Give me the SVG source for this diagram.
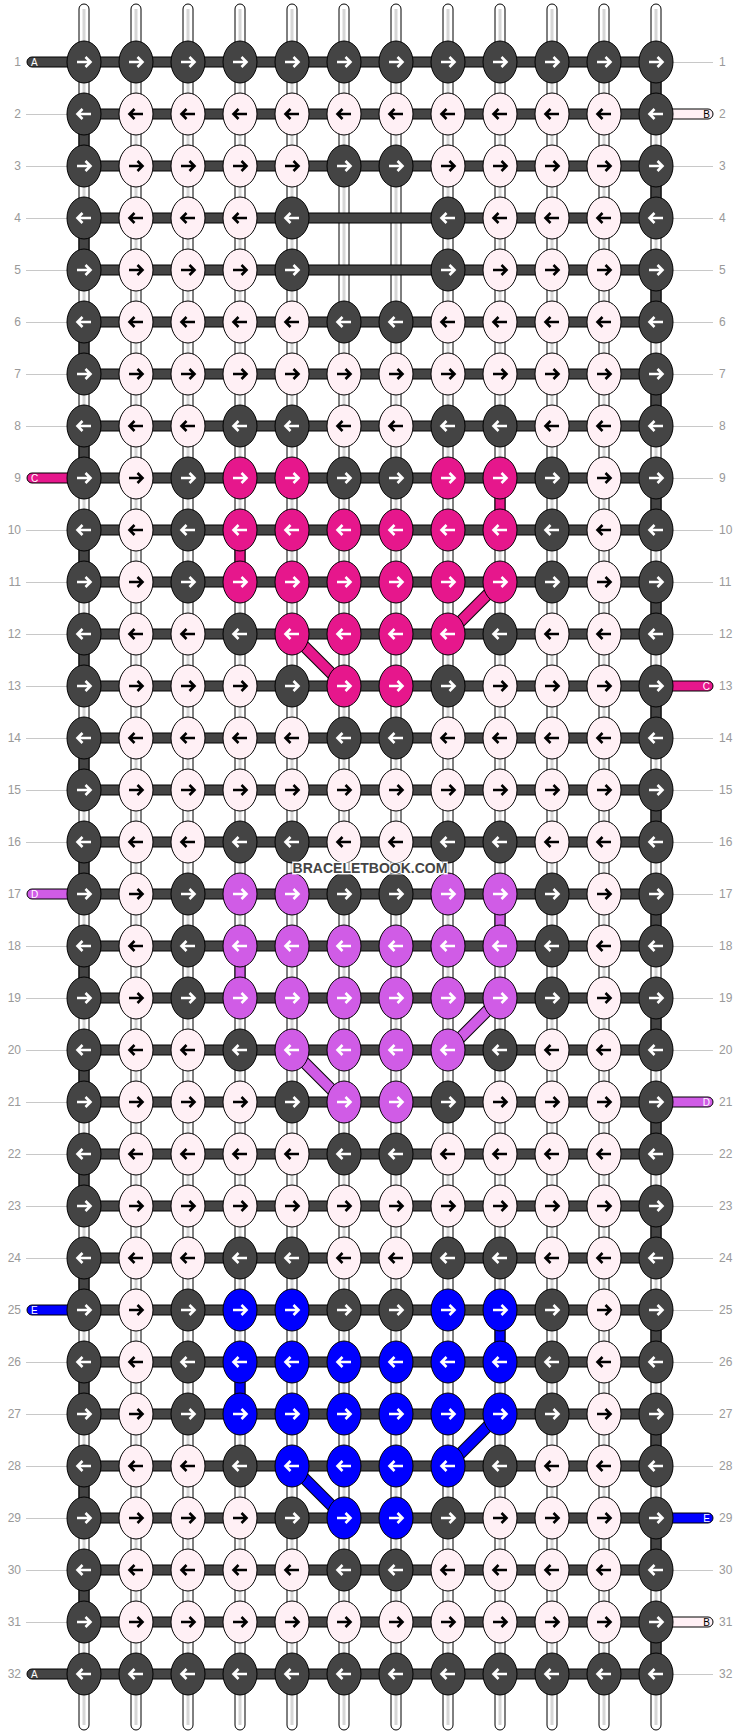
<svg xmlns="http://www.w3.org/2000/svg" xmlns:xlink="http://www.w3.org/1999/xlink" width="740" height="1736" viewBox="0 0 740 1736">
<style>
.str{fill:#fff;stroke:#000;stroke-width:1}
.stp{fill:#d6d6d6}
.bar{fill:#444;stroke:#000;stroke-width:1}
.seg{stroke:#000;stroke-width:1}
.cd{fill:#444}.cl{fill:#fff0f5}.cp{fill:#e6178c}.cv{fill:#d05ce6}.cb{fill:#0000ff}
.k{stroke:#000;stroke-width:1}
.aw{fill:none;stroke:#fff;stroke-width:2.6}
.ak{fill:none;stroke:#000;stroke-width:2.6}
.num{font-family:"Liberation Sans",Arial,sans-serif;font-size:12px;fill:#999}
.lt{font-family:"Liberation Sans",Arial,sans-serif;font-size:10px}
.ln{stroke:#c8c8c8;stroke-width:1}
.wm{font-family:"Liberation Sans",Arial,sans-serif;font-size:14px;font-weight:bold;fill:#444;stroke:#fff;stroke-width:2;paint-order:stroke}
</style>
<defs>
<path id="ar" d="M-7,0H6.5M1.5,-5L6.5,0L1.5,5"/>
<path id="al" d="M7,0H-6.5M-1.5,-5L-6.5,0L-1.5,5"/>
<g id="DR"><ellipse rx="17" ry="21" class="k cd"/><use href="#ar" class="aw"/></g>
<g id="DL"><ellipse rx="17" ry="21" class="k cd"/><use href="#al" class="aw"/></g>
<g id="LR"><ellipse rx="17" ry="21" class="k cl"/><use href="#ar" class="ak"/></g>
<g id="LL"><ellipse rx="17" ry="21" class="k cl"/><use href="#al" class="ak"/></g>
<g id="PR"><ellipse rx="17" ry="21" class="k cp"/><use href="#ar" class="aw"/></g>
<g id="PL"><ellipse rx="17" ry="21" class="k cp"/><use href="#al" class="aw"/></g>
<g id="VR"><ellipse rx="17" ry="21" class="k cv"/><use href="#ar" class="aw"/></g>
<g id="VL"><ellipse rx="17" ry="21" class="k cv"/><use href="#al" class="aw"/></g>
<g id="BR"><ellipse rx="17" ry="21" class="k cb"/><use href="#ar" class="aw"/></g>
<g id="BL"><ellipse rx="17" ry="21" class="k cb"/><use href="#al" class="aw"/></g>
</defs>
<rect width="740" height="1736" fill="#fff"/>
<g id="labels">
<g class="ln">
<line x1="26" y1="114.5" x2="67" y2="114.5"/><line x1="26" y1="166.5" x2="67" y2="166.5"/><line x1="26" y1="218.5" x2="67" y2="218.5"/><line x1="26" y1="270.5" x2="67" y2="270.5"/><line x1="26" y1="322.5" x2="67" y2="322.5"/><line x1="26" y1="374.5" x2="67" y2="374.5"/><line x1="26" y1="426.5" x2="67" y2="426.5"/><line x1="26" y1="530.5" x2="67" y2="530.5"/><line x1="26" y1="582.5" x2="67" y2="582.5"/><line x1="26" y1="634.5" x2="67" y2="634.5"/><line x1="26" y1="686.5" x2="67" y2="686.5"/><line x1="26" y1="738.5" x2="67" y2="738.5"/><line x1="26" y1="790.5" x2="67" y2="790.5"/><line x1="26" y1="842.5" x2="67" y2="842.5"/><line x1="26" y1="946.5" x2="67" y2="946.5"/><line x1="26" y1="998.5" x2="67" y2="998.5"/><line x1="26" y1="1050.5" x2="67" y2="1050.5"/><line x1="26" y1="1102.5" x2="67" y2="1102.5"/><line x1="26" y1="1154.5" x2="67" y2="1154.5"/><line x1="26" y1="1206.5" x2="67" y2="1206.5"/><line x1="26" y1="1258.5" x2="67" y2="1258.5"/><line x1="26" y1="1362.5" x2="67" y2="1362.5"/><line x1="26" y1="1414.5" x2="67" y2="1414.5"/><line x1="26" y1="1466.5" x2="67" y2="1466.5"/><line x1="26" y1="1518.5" x2="67" y2="1518.5"/><line x1="26" y1="1570.5" x2="67" y2="1570.5"/><line x1="26" y1="1622.5" x2="67" y2="1622.5"/>
<line x1="673" y1="62.5" x2="713" y2="62.5"/><line x1="673" y1="166.5" x2="713" y2="166.5"/><line x1="673" y1="218.5" x2="713" y2="218.5"/><line x1="673" y1="270.5" x2="713" y2="270.5"/><line x1="673" y1="322.5" x2="713" y2="322.5"/><line x1="673" y1="374.5" x2="713" y2="374.5"/><line x1="673" y1="426.5" x2="713" y2="426.5"/><line x1="673" y1="478.5" x2="713" y2="478.5"/><line x1="673" y1="530.5" x2="713" y2="530.5"/><line x1="673" y1="582.5" x2="713" y2="582.5"/><line x1="673" y1="634.5" x2="713" y2="634.5"/><line x1="673" y1="738.5" x2="713" y2="738.5"/><line x1="673" y1="790.5" x2="713" y2="790.5"/><line x1="673" y1="842.5" x2="713" y2="842.5"/><line x1="673" y1="894.5" x2="713" y2="894.5"/><line x1="673" y1="946.5" x2="713" y2="946.5"/><line x1="673" y1="998.5" x2="713" y2="998.5"/><line x1="673" y1="1050.5" x2="713" y2="1050.5"/><line x1="673" y1="1154.5" x2="713" y2="1154.5"/><line x1="673" y1="1206.5" x2="713" y2="1206.5"/><line x1="673" y1="1258.5" x2="713" y2="1258.5"/><line x1="673" y1="1310.5" x2="713" y2="1310.5"/><line x1="673" y1="1362.5" x2="713" y2="1362.5"/><line x1="673" y1="1414.5" x2="713" y2="1414.5"/><line x1="673" y1="1466.5" x2="713" y2="1466.5"/><line x1="673" y1="1570.5" x2="713" y2="1570.5"/><line x1="673" y1="1674.5" x2="713" y2="1674.5"/>
</g>
<g class="num" text-anchor="end">
<text x="21" y="66">1</text><text x="21" y="118">2</text><text x="21" y="170">3</text><text x="21" y="222">4</text><text x="21" y="274">5</text><text x="21" y="326">6</text><text x="21" y="378">7</text><text x="21" y="430">8</text><text x="21" y="482">9</text><text x="21" y="534">10</text><text x="21" y="586">11</text><text x="21" y="638">12</text><text x="21" y="690">13</text><text x="21" y="742">14</text><text x="21" y="794">15</text><text x="21" y="846">16</text><text x="21" y="898">17</text><text x="21" y="950">18</text><text x="21" y="1002">19</text><text x="21" y="1054">20</text><text x="21" y="1106">21</text><text x="21" y="1158">22</text><text x="21" y="1210">23</text><text x="21" y="1262">24</text><text x="21" y="1314">25</text><text x="21" y="1366">26</text><text x="21" y="1418">27</text><text x="21" y="1470">28</text><text x="21" y="1522">29</text><text x="21" y="1574">30</text><text x="21" y="1626">31</text><text x="21" y="1678">32</text>
</g>
<g class="num">
<text x="719" y="66">1</text><text x="719" y="118">2</text><text x="719" y="170">3</text><text x="719" y="222">4</text><text x="719" y="274">5</text><text x="719" y="326">6</text><text x="719" y="378">7</text><text x="719" y="430">8</text><text x="719" y="482">9</text><text x="719" y="534">10</text><text x="719" y="586">11</text><text x="719" y="638">12</text><text x="719" y="690">13</text><text x="719" y="742">14</text><text x="719" y="794">15</text><text x="719" y="846">16</text><text x="719" y="898">17</text><text x="719" y="950">18</text><text x="719" y="1002">19</text><text x="719" y="1054">20</text><text x="719" y="1106">21</text><text x="719" y="1158">22</text><text x="719" y="1210">23</text><text x="719" y="1262">24</text><text x="719" y="1314">25</text><text x="719" y="1366">26</text><text x="719" y="1418">27</text><text x="719" y="1470">28</text><text x="719" y="1522">29</text><text x="719" y="1574">30</text><text x="719" y="1626">31</text><text x="719" y="1678">32</text>
</g>
</g>
<g id="connectors">
<g id="strings">
<rect class="str" x="79" y="4" width="10" height="1726" rx="5"/><rect class="str" x="131" y="4" width="10" height="1726" rx="5"/><rect class="str" x="183" y="4" width="10" height="1726" rx="5"/><rect class="str" x="235" y="4" width="10" height="1726" rx="5"/><rect class="str" x="287" y="4" width="10" height="1726" rx="5"/><rect class="str" x="339" y="4" width="10" height="1726" rx="5"/><rect class="str" x="391" y="4" width="10" height="1726" rx="5"/><rect class="str" x="443" y="4" width="10" height="1726" rx="5"/><rect class="str" x="495" y="4" width="10" height="1726" rx="5"/><rect class="str" x="547" y="4" width="10" height="1726" rx="5"/><rect class="str" x="599" y="4" width="10" height="1726" rx="5"/><rect class="str" x="651" y="4" width="10" height="1726" rx="5"/>
<rect class="stp" x="82.5" y="9" width="3" height="1716"/><rect class="stp" x="134.5" y="9" width="3" height="1716"/><rect class="stp" x="186.5" y="9" width="3" height="1716"/><rect class="stp" x="238.5" y="9" width="3" height="1716"/><rect class="stp" x="290.5" y="9" width="3" height="1716"/><rect class="stp" x="342.5" y="9" width="3" height="1716"/><rect class="stp" x="394.5" y="9" width="3" height="1716"/><rect class="stp" x="446.5" y="9" width="3" height="1716"/><rect class="stp" x="498.5" y="9" width="3" height="1716"/><rect class="stp" x="550.5" y="9" width="3" height="1716"/><rect class="stp" x="602.5" y="9" width="3" height="1716"/><rect class="stp" x="654.5" y="9" width="3" height="1716"/>
</g>
<g id="stubs">
<rect class="seg cd" x="27" y="57" width="60" height="10" rx="5"/>
<rect class="seg cp" x="27" y="473" width="60" height="10" rx="5"/>
<rect class="seg cv" x="27" y="889" width="60" height="10" rx="5"/>
<rect class="seg cb" x="27" y="1305" width="60" height="10" rx="5"/>
<rect class="seg cd" x="27" y="1669" width="60" height="10" rx="5"/>
<rect class="seg cl" x="653" y="109" width="60" height="10" rx="5"/>
<rect class="seg cp" x="653" y="681" width="60" height="10" rx="5"/>
<rect class="seg cv" x="653" y="1097" width="60" height="10" rx="5"/>
<rect class="seg cb" x="653" y="1513" width="60" height="10" rx="5"/>
<rect class="seg cl" x="653" y="1617" width="60" height="10" rx="5"/>
<g class="lt" fill="#fff">
<text x="31" y="66">A</text><text x="31" y="482">C</text><text x="31" y="898">D</text><text x="31" y="1314">E</text><text x="31" y="1678">A</text>
<text x="710" y="690" text-anchor="end">C</text><text x="710" y="1106" text-anchor="end">D</text><text x="710" y="1522" text-anchor="end">E</text>
</g>
<g class="lt" fill="#000" text-anchor="end"><text x="710" y="118">B</text><text x="710" y="1626">B</text></g>
</g>
<g id="bars">
<rect class="bar" x="84" y="57" width="572" height="10"/><rect class="bar" x="84" y="109" width="572" height="10"/><rect class="bar" x="84" y="161" width="572" height="10"/><rect class="bar" x="84" y="213" width="572" height="10"/><rect class="bar" x="84" y="265" width="572" height="10"/><rect class="bar" x="84" y="317" width="572" height="10"/><rect class="bar" x="84" y="369" width="572" height="10"/><rect class="bar" x="84" y="421" width="572" height="10"/><rect class="bar" x="84" y="473" width="572" height="10"/><rect class="bar" x="84" y="525" width="572" height="10"/><rect class="bar" x="84" y="577" width="572" height="10"/><rect class="bar" x="84" y="629" width="572" height="10"/><rect class="bar" x="84" y="681" width="572" height="10"/><rect class="bar" x="84" y="733" width="572" height="10"/><rect class="bar" x="84" y="785" width="572" height="10"/><rect class="bar" x="84" y="837" width="572" height="10"/><rect class="bar" x="84" y="889" width="572" height="10"/><rect class="bar" x="84" y="941" width="572" height="10"/><rect class="bar" x="84" y="993" width="572" height="10"/><rect class="bar" x="84" y="1045" width="572" height="10"/><rect class="bar" x="84" y="1097" width="572" height="10"/><rect class="bar" x="84" y="1149" width="572" height="10"/><rect class="bar" x="84" y="1201" width="572" height="10"/><rect class="bar" x="84" y="1253" width="572" height="10"/><rect class="bar" x="84" y="1305" width="572" height="10"/><rect class="bar" x="84" y="1357" width="572" height="10"/><rect class="bar" x="84" y="1409" width="572" height="10"/><rect class="bar" x="84" y="1461" width="572" height="10"/><rect class="bar" x="84" y="1513" width="572" height="10"/><rect class="bar" x="84" y="1565" width="572" height="10"/><rect class="bar" x="84" y="1617" width="572" height="10"/><rect class="bar" x="84" y="1669" width="572" height="10"/>
</g>
<g id="turns" class="seg cd">
<rect x="651" y="62" width="10" height="52"/><rect x="651" y="166" width="10" height="52"/><rect x="651" y="270" width="10" height="52"/><rect x="651" y="374" width="10" height="52"/><rect x="651" y="478" width="10" height="52"/><rect x="651" y="582" width="10" height="52"/><rect x="651" y="686" width="10" height="52"/><rect x="651" y="790" width="10" height="52"/><rect x="651" y="894" width="10" height="52"/><rect x="651" y="998" width="10" height="52"/><rect x="651" y="1102" width="10" height="52"/><rect x="651" y="1206" width="10" height="52"/><rect x="651" y="1310" width="10" height="52"/><rect x="651" y="1414" width="10" height="52"/><rect x="651" y="1518" width="10" height="52"/><rect x="651" y="1622" width="10" height="52"/>
<rect x="79" y="114" width="10" height="52"/><rect x="79" y="218" width="10" height="52"/><rect x="79" y="322" width="10" height="52"/><rect x="79" y="426" width="10" height="52"/><rect x="79" y="530" width="10" height="52"/><rect x="79" y="634" width="10" height="52"/><rect x="79" y="738" width="10" height="52"/><rect x="79" y="842" width="10" height="52"/><rect x="79" y="946" width="10" height="52"/><rect x="79" y="1050" width="10" height="52"/><rect x="79" y="1154" width="10" height="52"/><rect x="79" y="1258" width="10" height="52"/><rect x="79" y="1362" width="10" height="52"/><rect x="79" y="1466" width="10" height="52"/><rect x="79" y="1570" width="10" height="52"/>
</g>
<g id="colored">
<rect class="seg cp" x="495" y="478" width="10" height="52"/><rect class="seg cp" x="235" y="530" width="10" height="52"/>
<rect class="seg cv" x="495" y="894" width="10" height="52"/><rect class="seg cv" x="235" y="946" width="10" height="52"/>
<rect class="seg cb" x="495" y="1310" width="10" height="52"/><rect class="seg cb" x="235" y="1362" width="10" height="52"/>
<g stroke="#000" stroke-width="12"><line x1="500" y1="582" x2="448" y2="634"/><line x1="292" y1="634" x2="344" y2="686"/><line x1="500" y1="998" x2="448" y2="1050"/><line x1="292" y1="1050" x2="344" y2="1102"/><line x1="500" y1="1414" x2="448" y2="1466"/><line x1="292" y1="1466" x2="344" y2="1518"/></g>
<g stroke-width="10"><line stroke="#e6178c" x1="500" y1="582" x2="448" y2="634"/><line stroke="#e6178c" x1="292" y1="634" x2="344" y2="686"/><line stroke="#d05ce6" x1="500" y1="998" x2="448" y2="1050"/><line stroke="#d05ce6" x1="292" y1="1050" x2="344" y2="1102"/><line stroke="#0000ff" x1="500" y1="1414" x2="448" y2="1466"/><line stroke="#0000ff" x1="292" y1="1466" x2="344" y2="1518"/></g>
</g>
</g>
<g id="knots">
<g id="n1_1"><use href="#DR" x="84" y="62"/></g><g id="n1_2"><use href="#DR" x="136" y="62"/></g><g id="n1_3"><use href="#DR" x="188" y="62"/></g><g id="n1_4"><use href="#DR" x="240" y="62"/></g><g id="n1_5"><use href="#DR" x="292" y="62"/></g><g id="n1_6"><use href="#DR" x="344" y="62"/></g><g id="n1_7"><use href="#DR" x="396" y="62"/></g><g id="n1_8"><use href="#DR" x="448" y="62"/></g><g id="n1_9"><use href="#DR" x="500" y="62"/></g><g id="n1_10"><use href="#DR" x="552" y="62"/></g><g id="n1_11"><use href="#DR" x="604" y="62"/></g><g id="n1_12"><use href="#DR" x="656" y="62"/></g>
<g id="n2_1"><use href="#DL" x="84" y="114"/></g><g id="n2_2"><use href="#LL" x="136" y="114"/></g><g id="n2_3"><use href="#LL" x="188" y="114"/></g><g id="n2_4"><use href="#LL" x="240" y="114"/></g><g id="n2_5"><use href="#LL" x="292" y="114"/></g><g id="n2_6"><use href="#LL" x="344" y="114"/></g><g id="n2_7"><use href="#LL" x="396" y="114"/></g><g id="n2_8"><use href="#LL" x="448" y="114"/></g><g id="n2_9"><use href="#LL" x="500" y="114"/></g><g id="n2_10"><use href="#LL" x="552" y="114"/></g><g id="n2_11"><use href="#LL" x="604" y="114"/></g><g id="n2_12"><use href="#DL" x="656" y="114"/></g>
<g id="n3_1"><use href="#DR" x="84" y="166"/></g><g id="n3_2"><use href="#LR" x="136" y="166"/></g><g id="n3_3"><use href="#LR" x="188" y="166"/></g><g id="n3_4"><use href="#LR" x="240" y="166"/></g><g id="n3_5"><use href="#LR" x="292" y="166"/></g><g id="n3_6"><use href="#DR" x="344" y="166"/></g><g id="n3_7"><use href="#DR" x="396" y="166"/></g><g id="n3_8"><use href="#LR" x="448" y="166"/></g><g id="n3_9"><use href="#LR" x="500" y="166"/></g><g id="n3_10"><use href="#LR" x="552" y="166"/></g><g id="n3_11"><use href="#LR" x="604" y="166"/></g><g id="n3_12"><use href="#DR" x="656" y="166"/></g>
<g id="n4_1"><use href="#DL" x="84" y="218"/></g><g id="n4_2"><use href="#LL" x="136" y="218"/></g><g id="n4_3"><use href="#LL" x="188" y="218"/></g><g id="n4_4"><use href="#LL" x="240" y="218"/></g><g id="n4_5"><use href="#DL" x="292" y="218"/></g><g id="n4_8"><use href="#DL" x="448" y="218"/></g><g id="n4_9"><use href="#LL" x="500" y="218"/></g><g id="n4_10"><use href="#LL" x="552" y="218"/></g><g id="n4_11"><use href="#LL" x="604" y="218"/></g><g id="n4_12"><use href="#DL" x="656" y="218"/></g>
<g id="n5_1"><use href="#DR" x="84" y="270"/></g><g id="n5_2"><use href="#LR" x="136" y="270"/></g><g id="n5_3"><use href="#LR" x="188" y="270"/></g><g id="n5_4"><use href="#LR" x="240" y="270"/></g><g id="n5_5"><use href="#DR" x="292" y="270"/></g><g id="n5_8"><use href="#DR" x="448" y="270"/></g><g id="n5_9"><use href="#LR" x="500" y="270"/></g><g id="n5_10"><use href="#LR" x="552" y="270"/></g><g id="n5_11"><use href="#LR" x="604" y="270"/></g><g id="n5_12"><use href="#DR" x="656" y="270"/></g>
<g id="n6_1"><use href="#DL" x="84" y="322"/></g><g id="n6_2"><use href="#LL" x="136" y="322"/></g><g id="n6_3"><use href="#LL" x="188" y="322"/></g><g id="n6_4"><use href="#LL" x="240" y="322"/></g><g id="n6_5"><use href="#LL" x="292" y="322"/></g><g id="n6_6"><use href="#DL" x="344" y="322"/></g><g id="n6_7"><use href="#DL" x="396" y="322"/></g><g id="n6_8"><use href="#LL" x="448" y="322"/></g><g id="n6_9"><use href="#LL" x="500" y="322"/></g><g id="n6_10"><use href="#LL" x="552" y="322"/></g><g id="n6_11"><use href="#LL" x="604" y="322"/></g><g id="n6_12"><use href="#DL" x="656" y="322"/></g>
<g id="n7_1"><use href="#DR" x="84" y="374"/></g><g id="n7_2"><use href="#LR" x="136" y="374"/></g><g id="n7_3"><use href="#LR" x="188" y="374"/></g><g id="n7_4"><use href="#LR" x="240" y="374"/></g><g id="n7_5"><use href="#LR" x="292" y="374"/></g><g id="n7_6"><use href="#LR" x="344" y="374"/></g><g id="n7_7"><use href="#LR" x="396" y="374"/></g><g id="n7_8"><use href="#LR" x="448" y="374"/></g><g id="n7_9"><use href="#LR" x="500" y="374"/></g><g id="n7_10"><use href="#LR" x="552" y="374"/></g><g id="n7_11"><use href="#LR" x="604" y="374"/></g><g id="n7_12"><use href="#DR" x="656" y="374"/></g>
<g id="n8_1"><use href="#DL" x="84" y="426"/></g><g id="n8_2"><use href="#LL" x="136" y="426"/></g><g id="n8_3"><use href="#LL" x="188" y="426"/></g><g id="n8_4"><use href="#DL" x="240" y="426"/></g><g id="n8_5"><use href="#DL" x="292" y="426"/></g><g id="n8_6"><use href="#LL" x="344" y="426"/></g><g id="n8_7"><use href="#LL" x="396" y="426"/></g><g id="n8_8"><use href="#DL" x="448" y="426"/></g><g id="n8_9"><use href="#DL" x="500" y="426"/></g><g id="n8_10"><use href="#LL" x="552" y="426"/></g><g id="n8_11"><use href="#LL" x="604" y="426"/></g><g id="n8_12"><use href="#DL" x="656" y="426"/></g>
<g id="n9_1"><use href="#DR" x="84" y="478"/></g><g id="n9_2"><use href="#LR" x="136" y="478"/></g><g id="n9_3"><use href="#DR" x="188" y="478"/></g><g id="n9_4"><use href="#PR" x="240" y="478"/></g><g id="n9_5"><use href="#PR" x="292" y="478"/></g><g id="n9_6"><use href="#DR" x="344" y="478"/></g><g id="n9_7"><use href="#DR" x="396" y="478"/></g><g id="n9_8"><use href="#PR" x="448" y="478"/></g><g id="n9_9"><use href="#PR" x="500" y="478"/></g><g id="n9_10"><use href="#DR" x="552" y="478"/></g><g id="n9_11"><use href="#LR" x="604" y="478"/></g><g id="n9_12"><use href="#DR" x="656" y="478"/></g>
<g id="n10_1"><use href="#DL" x="84" y="530"/></g><g id="n10_2"><use href="#LL" x="136" y="530"/></g><g id="n10_3"><use href="#DL" x="188" y="530"/></g><g id="n10_4"><use href="#PL" x="240" y="530"/></g><g id="n10_5"><use href="#PL" x="292" y="530"/></g><g id="n10_6"><use href="#PL" x="344" y="530"/></g><g id="n10_7"><use href="#PL" x="396" y="530"/></g><g id="n10_8"><use href="#PL" x="448" y="530"/></g><g id="n10_9"><use href="#PL" x="500" y="530"/></g><g id="n10_10"><use href="#DL" x="552" y="530"/></g><g id="n10_11"><use href="#LL" x="604" y="530"/></g><g id="n10_12"><use href="#DL" x="656" y="530"/></g>
<g id="n11_1"><use href="#DR" x="84" y="582"/></g><g id="n11_2"><use href="#LR" x="136" y="582"/></g><g id="n11_3"><use href="#DR" x="188" y="582"/></g><g id="n11_4"><use href="#PR" x="240" y="582"/></g><g id="n11_5"><use href="#PR" x="292" y="582"/></g><g id="n11_6"><use href="#PR" x="344" y="582"/></g><g id="n11_7"><use href="#PR" x="396" y="582"/></g><g id="n11_8"><use href="#PR" x="448" y="582"/></g><g id="n11_9"><use href="#PR" x="500" y="582"/></g><g id="n11_10"><use href="#DR" x="552" y="582"/></g><g id="n11_11"><use href="#LR" x="604" y="582"/></g><g id="n11_12"><use href="#DR" x="656" y="582"/></g>
<g id="n12_1"><use href="#DL" x="84" y="634"/></g><g id="n12_2"><use href="#LL" x="136" y="634"/></g><g id="n12_3"><use href="#LL" x="188" y="634"/></g><g id="n12_4"><use href="#DL" x="240" y="634"/></g><g id="n12_5"><use href="#PL" x="292" y="634"/></g><g id="n12_6"><use href="#PL" x="344" y="634"/></g><g id="n12_7"><use href="#PL" x="396" y="634"/></g><g id="n12_8"><use href="#PL" x="448" y="634"/></g><g id="n12_9"><use href="#DL" x="500" y="634"/></g><g id="n12_10"><use href="#LL" x="552" y="634"/></g><g id="n12_11"><use href="#LL" x="604" y="634"/></g><g id="n12_12"><use href="#DL" x="656" y="634"/></g>
<g id="n13_1"><use href="#DR" x="84" y="686"/></g><g id="n13_2"><use href="#LR" x="136" y="686"/></g><g id="n13_3"><use href="#LR" x="188" y="686"/></g><g id="n13_4"><use href="#LR" x="240" y="686"/></g><g id="n13_5"><use href="#DR" x="292" y="686"/></g><g id="n13_6"><use href="#PR" x="344" y="686"/></g><g id="n13_7"><use href="#PR" x="396" y="686"/></g><g id="n13_8"><use href="#DR" x="448" y="686"/></g><g id="n13_9"><use href="#LR" x="500" y="686"/></g><g id="n13_10"><use href="#LR" x="552" y="686"/></g><g id="n13_11"><use href="#LR" x="604" y="686"/></g><g id="n13_12"><use href="#DR" x="656" y="686"/></g>
<g id="n14_1"><use href="#DL" x="84" y="738"/></g><g id="n14_2"><use href="#LL" x="136" y="738"/></g><g id="n14_3"><use href="#LL" x="188" y="738"/></g><g id="n14_4"><use href="#LL" x="240" y="738"/></g><g id="n14_5"><use href="#LL" x="292" y="738"/></g><g id="n14_6"><use href="#DL" x="344" y="738"/></g><g id="n14_7"><use href="#DL" x="396" y="738"/></g><g id="n14_8"><use href="#LL" x="448" y="738"/></g><g id="n14_9"><use href="#LL" x="500" y="738"/></g><g id="n14_10"><use href="#LL" x="552" y="738"/></g><g id="n14_11"><use href="#LL" x="604" y="738"/></g><g id="n14_12"><use href="#DL" x="656" y="738"/></g>
<g id="n15_1"><use href="#DR" x="84" y="790"/></g><g id="n15_2"><use href="#LR" x="136" y="790"/></g><g id="n15_3"><use href="#LR" x="188" y="790"/></g><g id="n15_4"><use href="#LR" x="240" y="790"/></g><g id="n15_5"><use href="#LR" x="292" y="790"/></g><g id="n15_6"><use href="#LR" x="344" y="790"/></g><g id="n15_7"><use href="#LR" x="396" y="790"/></g><g id="n15_8"><use href="#LR" x="448" y="790"/></g><g id="n15_9"><use href="#LR" x="500" y="790"/></g><g id="n15_10"><use href="#LR" x="552" y="790"/></g><g id="n15_11"><use href="#LR" x="604" y="790"/></g><g id="n15_12"><use href="#DR" x="656" y="790"/></g>
<g id="n16_1"><use href="#DL" x="84" y="842"/></g><g id="n16_2"><use href="#LL" x="136" y="842"/></g><g id="n16_3"><use href="#LL" x="188" y="842"/></g><g id="n16_4"><use href="#DL" x="240" y="842"/></g><g id="n16_5"><use href="#DL" x="292" y="842"/></g><g id="n16_6"><use href="#LL" x="344" y="842"/></g><g id="n16_7"><use href="#LL" x="396" y="842"/></g><g id="n16_8"><use href="#DL" x="448" y="842"/></g><g id="n16_9"><use href="#DL" x="500" y="842"/></g><g id="n16_10"><use href="#LL" x="552" y="842"/></g><g id="n16_11"><use href="#LL" x="604" y="842"/></g><g id="n16_12"><use href="#DL" x="656" y="842"/></g>
<g id="n17_1"><use href="#DR" x="84" y="894"/></g><g id="n17_2"><use href="#LR" x="136" y="894"/></g><g id="n17_3"><use href="#DR" x="188" y="894"/></g><g id="n17_4"><use href="#VR" x="240" y="894"/></g><g id="n17_5"><use href="#VR" x="292" y="894"/></g><g id="n17_6"><use href="#DR" x="344" y="894"/></g><g id="n17_7"><use href="#DR" x="396" y="894"/></g><g id="n17_8"><use href="#VR" x="448" y="894"/></g><g id="n17_9"><use href="#VR" x="500" y="894"/></g><g id="n17_10"><use href="#DR" x="552" y="894"/></g><g id="n17_11"><use href="#LR" x="604" y="894"/></g><g id="n17_12"><use href="#DR" x="656" y="894"/></g>
<g id="n18_1"><use href="#DL" x="84" y="946"/></g><g id="n18_2"><use href="#LL" x="136" y="946"/></g><g id="n18_3"><use href="#DL" x="188" y="946"/></g><g id="n18_4"><use href="#VL" x="240" y="946"/></g><g id="n18_5"><use href="#VL" x="292" y="946"/></g><g id="n18_6"><use href="#VL" x="344" y="946"/></g><g id="n18_7"><use href="#VL" x="396" y="946"/></g><g id="n18_8"><use href="#VL" x="448" y="946"/></g><g id="n18_9"><use href="#VL" x="500" y="946"/></g><g id="n18_10"><use href="#DL" x="552" y="946"/></g><g id="n18_11"><use href="#LL" x="604" y="946"/></g><g id="n18_12"><use href="#DL" x="656" y="946"/></g>
<g id="n19_1"><use href="#DR" x="84" y="998"/></g><g id="n19_2"><use href="#LR" x="136" y="998"/></g><g id="n19_3"><use href="#DR" x="188" y="998"/></g><g id="n19_4"><use href="#VR" x="240" y="998"/></g><g id="n19_5"><use href="#VR" x="292" y="998"/></g><g id="n19_6"><use href="#VR" x="344" y="998"/></g><g id="n19_7"><use href="#VR" x="396" y="998"/></g><g id="n19_8"><use href="#VR" x="448" y="998"/></g><g id="n19_9"><use href="#VR" x="500" y="998"/></g><g id="n19_10"><use href="#DR" x="552" y="998"/></g><g id="n19_11"><use href="#LR" x="604" y="998"/></g><g id="n19_12"><use href="#DR" x="656" y="998"/></g>
<g id="n20_1"><use href="#DL" x="84" y="1050"/></g><g id="n20_2"><use href="#LL" x="136" y="1050"/></g><g id="n20_3"><use href="#LL" x="188" y="1050"/></g><g id="n20_4"><use href="#DL" x="240" y="1050"/></g><g id="n20_5"><use href="#VL" x="292" y="1050"/></g><g id="n20_6"><use href="#VL" x="344" y="1050"/></g><g id="n20_7"><use href="#VL" x="396" y="1050"/></g><g id="n20_8"><use href="#VL" x="448" y="1050"/></g><g id="n20_9"><use href="#DL" x="500" y="1050"/></g><g id="n20_10"><use href="#LL" x="552" y="1050"/></g><g id="n20_11"><use href="#LL" x="604" y="1050"/></g><g id="n20_12"><use href="#DL" x="656" y="1050"/></g>
<g id="n21_1"><use href="#DR" x="84" y="1102"/></g><g id="n21_2"><use href="#LR" x="136" y="1102"/></g><g id="n21_3"><use href="#LR" x="188" y="1102"/></g><g id="n21_4"><use href="#LR" x="240" y="1102"/></g><g id="n21_5"><use href="#DR" x="292" y="1102"/></g><g id="n21_6"><use href="#VR" x="344" y="1102"/></g><g id="n21_7"><use href="#VR" x="396" y="1102"/></g><g id="n21_8"><use href="#DR" x="448" y="1102"/></g><g id="n21_9"><use href="#LR" x="500" y="1102"/></g><g id="n21_10"><use href="#LR" x="552" y="1102"/></g><g id="n21_11"><use href="#LR" x="604" y="1102"/></g><g id="n21_12"><use href="#DR" x="656" y="1102"/></g>
<g id="n22_1"><use href="#DL" x="84" y="1154"/></g><g id="n22_2"><use href="#LL" x="136" y="1154"/></g><g id="n22_3"><use href="#LL" x="188" y="1154"/></g><g id="n22_4"><use href="#LL" x="240" y="1154"/></g><g id="n22_5"><use href="#LL" x="292" y="1154"/></g><g id="n22_6"><use href="#DL" x="344" y="1154"/></g><g id="n22_7"><use href="#DL" x="396" y="1154"/></g><g id="n22_8"><use href="#LL" x="448" y="1154"/></g><g id="n22_9"><use href="#LL" x="500" y="1154"/></g><g id="n22_10"><use href="#LL" x="552" y="1154"/></g><g id="n22_11"><use href="#LL" x="604" y="1154"/></g><g id="n22_12"><use href="#DL" x="656" y="1154"/></g>
<g id="n23_1"><use href="#DR" x="84" y="1206"/></g><g id="n23_2"><use href="#LR" x="136" y="1206"/></g><g id="n23_3"><use href="#LR" x="188" y="1206"/></g><g id="n23_4"><use href="#LR" x="240" y="1206"/></g><g id="n23_5"><use href="#LR" x="292" y="1206"/></g><g id="n23_6"><use href="#LR" x="344" y="1206"/></g><g id="n23_7"><use href="#LR" x="396" y="1206"/></g><g id="n23_8"><use href="#LR" x="448" y="1206"/></g><g id="n23_9"><use href="#LR" x="500" y="1206"/></g><g id="n23_10"><use href="#LR" x="552" y="1206"/></g><g id="n23_11"><use href="#LR" x="604" y="1206"/></g><g id="n23_12"><use href="#DR" x="656" y="1206"/></g>
<g id="n24_1"><use href="#DL" x="84" y="1258"/></g><g id="n24_2"><use href="#LL" x="136" y="1258"/></g><g id="n24_3"><use href="#LL" x="188" y="1258"/></g><g id="n24_4"><use href="#DL" x="240" y="1258"/></g><g id="n24_5"><use href="#DL" x="292" y="1258"/></g><g id="n24_6"><use href="#LL" x="344" y="1258"/></g><g id="n24_7"><use href="#LL" x="396" y="1258"/></g><g id="n24_8"><use href="#DL" x="448" y="1258"/></g><g id="n24_9"><use href="#DL" x="500" y="1258"/></g><g id="n24_10"><use href="#LL" x="552" y="1258"/></g><g id="n24_11"><use href="#LL" x="604" y="1258"/></g><g id="n24_12"><use href="#DL" x="656" y="1258"/></g>
<g id="n25_1"><use href="#DR" x="84" y="1310"/></g><g id="n25_2"><use href="#LR" x="136" y="1310"/></g><g id="n25_3"><use href="#DR" x="188" y="1310"/></g><g id="n25_4"><use href="#BR" x="240" y="1310"/></g><g id="n25_5"><use href="#BR" x="292" y="1310"/></g><g id="n25_6"><use href="#DR" x="344" y="1310"/></g><g id="n25_7"><use href="#DR" x="396" y="1310"/></g><g id="n25_8"><use href="#BR" x="448" y="1310"/></g><g id="n25_9"><use href="#BR" x="500" y="1310"/></g><g id="n25_10"><use href="#DR" x="552" y="1310"/></g><g id="n25_11"><use href="#LR" x="604" y="1310"/></g><g id="n25_12"><use href="#DR" x="656" y="1310"/></g>
<g id="n26_1"><use href="#DL" x="84" y="1362"/></g><g id="n26_2"><use href="#LL" x="136" y="1362"/></g><g id="n26_3"><use href="#DL" x="188" y="1362"/></g><g id="n26_4"><use href="#BL" x="240" y="1362"/></g><g id="n26_5"><use href="#BL" x="292" y="1362"/></g><g id="n26_6"><use href="#BL" x="344" y="1362"/></g><g id="n26_7"><use href="#BL" x="396" y="1362"/></g><g id="n26_8"><use href="#BL" x="448" y="1362"/></g><g id="n26_9"><use href="#BL" x="500" y="1362"/></g><g id="n26_10"><use href="#DL" x="552" y="1362"/></g><g id="n26_11"><use href="#LL" x="604" y="1362"/></g><g id="n26_12"><use href="#DL" x="656" y="1362"/></g>
<g id="n27_1"><use href="#DR" x="84" y="1414"/></g><g id="n27_2"><use href="#LR" x="136" y="1414"/></g><g id="n27_3"><use href="#DR" x="188" y="1414"/></g><g id="n27_4"><use href="#BR" x="240" y="1414"/></g><g id="n27_5"><use href="#BR" x="292" y="1414"/></g><g id="n27_6"><use href="#BR" x="344" y="1414"/></g><g id="n27_7"><use href="#BR" x="396" y="1414"/></g><g id="n27_8"><use href="#BR" x="448" y="1414"/></g><g id="n27_9"><use href="#BR" x="500" y="1414"/></g><g id="n27_10"><use href="#DR" x="552" y="1414"/></g><g id="n27_11"><use href="#LR" x="604" y="1414"/></g><g id="n27_12"><use href="#DR" x="656" y="1414"/></g>
<g id="n28_1"><use href="#DL" x="84" y="1466"/></g><g id="n28_2"><use href="#LL" x="136" y="1466"/></g><g id="n28_3"><use href="#LL" x="188" y="1466"/></g><g id="n28_4"><use href="#DL" x="240" y="1466"/></g><g id="n28_5"><use href="#BL" x="292" y="1466"/></g><g id="n28_6"><use href="#BL" x="344" y="1466"/></g><g id="n28_7"><use href="#BL" x="396" y="1466"/></g><g id="n28_8"><use href="#BL" x="448" y="1466"/></g><g id="n28_9"><use href="#DL" x="500" y="1466"/></g><g id="n28_10"><use href="#LL" x="552" y="1466"/></g><g id="n28_11"><use href="#LL" x="604" y="1466"/></g><g id="n28_12"><use href="#DL" x="656" y="1466"/></g>
<g id="n29_1"><use href="#DR" x="84" y="1518"/></g><g id="n29_2"><use href="#LR" x="136" y="1518"/></g><g id="n29_3"><use href="#LR" x="188" y="1518"/></g><g id="n29_4"><use href="#LR" x="240" y="1518"/></g><g id="n29_5"><use href="#DR" x="292" y="1518"/></g><g id="n29_6"><use href="#BR" x="344" y="1518"/></g><g id="n29_7"><use href="#BR" x="396" y="1518"/></g><g id="n29_8"><use href="#DR" x="448" y="1518"/></g><g id="n29_9"><use href="#LR" x="500" y="1518"/></g><g id="n29_10"><use href="#LR" x="552" y="1518"/></g><g id="n29_11"><use href="#LR" x="604" y="1518"/></g><g id="n29_12"><use href="#DR" x="656" y="1518"/></g>
<g id="n30_1"><use href="#DL" x="84" y="1570"/></g><g id="n30_2"><use href="#LL" x="136" y="1570"/></g><g id="n30_3"><use href="#LL" x="188" y="1570"/></g><g id="n30_4"><use href="#LL" x="240" y="1570"/></g><g id="n30_5"><use href="#LL" x="292" y="1570"/></g><g id="n30_6"><use href="#DL" x="344" y="1570"/></g><g id="n30_7"><use href="#DL" x="396" y="1570"/></g><g id="n30_8"><use href="#LL" x="448" y="1570"/></g><g id="n30_9"><use href="#LL" x="500" y="1570"/></g><g id="n30_10"><use href="#LL" x="552" y="1570"/></g><g id="n30_11"><use href="#LL" x="604" y="1570"/></g><g id="n30_12"><use href="#DL" x="656" y="1570"/></g>
<g id="n31_1"><use href="#DR" x="84" y="1622"/></g><g id="n31_2"><use href="#LR" x="136" y="1622"/></g><g id="n31_3"><use href="#LR" x="188" y="1622"/></g><g id="n31_4"><use href="#LR" x="240" y="1622"/></g><g id="n31_5"><use href="#LR" x="292" y="1622"/></g><g id="n31_6"><use href="#LR" x="344" y="1622"/></g><g id="n31_7"><use href="#LR" x="396" y="1622"/></g><g id="n31_8"><use href="#LR" x="448" y="1622"/></g><g id="n31_9"><use href="#LR" x="500" y="1622"/></g><g id="n31_10"><use href="#LR" x="552" y="1622"/></g><g id="n31_11"><use href="#LR" x="604" y="1622"/></g><g id="n31_12"><use href="#DR" x="656" y="1622"/></g>
<g id="n32_1"><use href="#DL" x="84" y="1674"/></g><g id="n32_2"><use href="#DL" x="136" y="1674"/></g><g id="n32_3"><use href="#DL" x="188" y="1674"/></g><g id="n32_4"><use href="#DL" x="240" y="1674"/></g><g id="n32_5"><use href="#DL" x="292" y="1674"/></g><g id="n32_6"><use href="#DL" x="344" y="1674"/></g><g id="n32_7"><use href="#DL" x="396" y="1674"/></g><g id="n32_8"><use href="#DL" x="448" y="1674"/></g><g id="n32_9"><use href="#DL" x="500" y="1674"/></g><g id="n32_10"><use href="#DL" x="552" y="1674"/></g><g id="n32_11"><use href="#DL" x="604" y="1674"/></g><g id="n32_12"><use href="#DL" x="656" y="1674"/></g>
</g>
<g id="watermark">
<rect x="292" y="861" width="156" height="14" fill="#fff" opacity="0.45"/>
<text class="wm" x="370" y="873" text-anchor="middle">BRACELETBOOK.COM</text>
</g>
</svg>
